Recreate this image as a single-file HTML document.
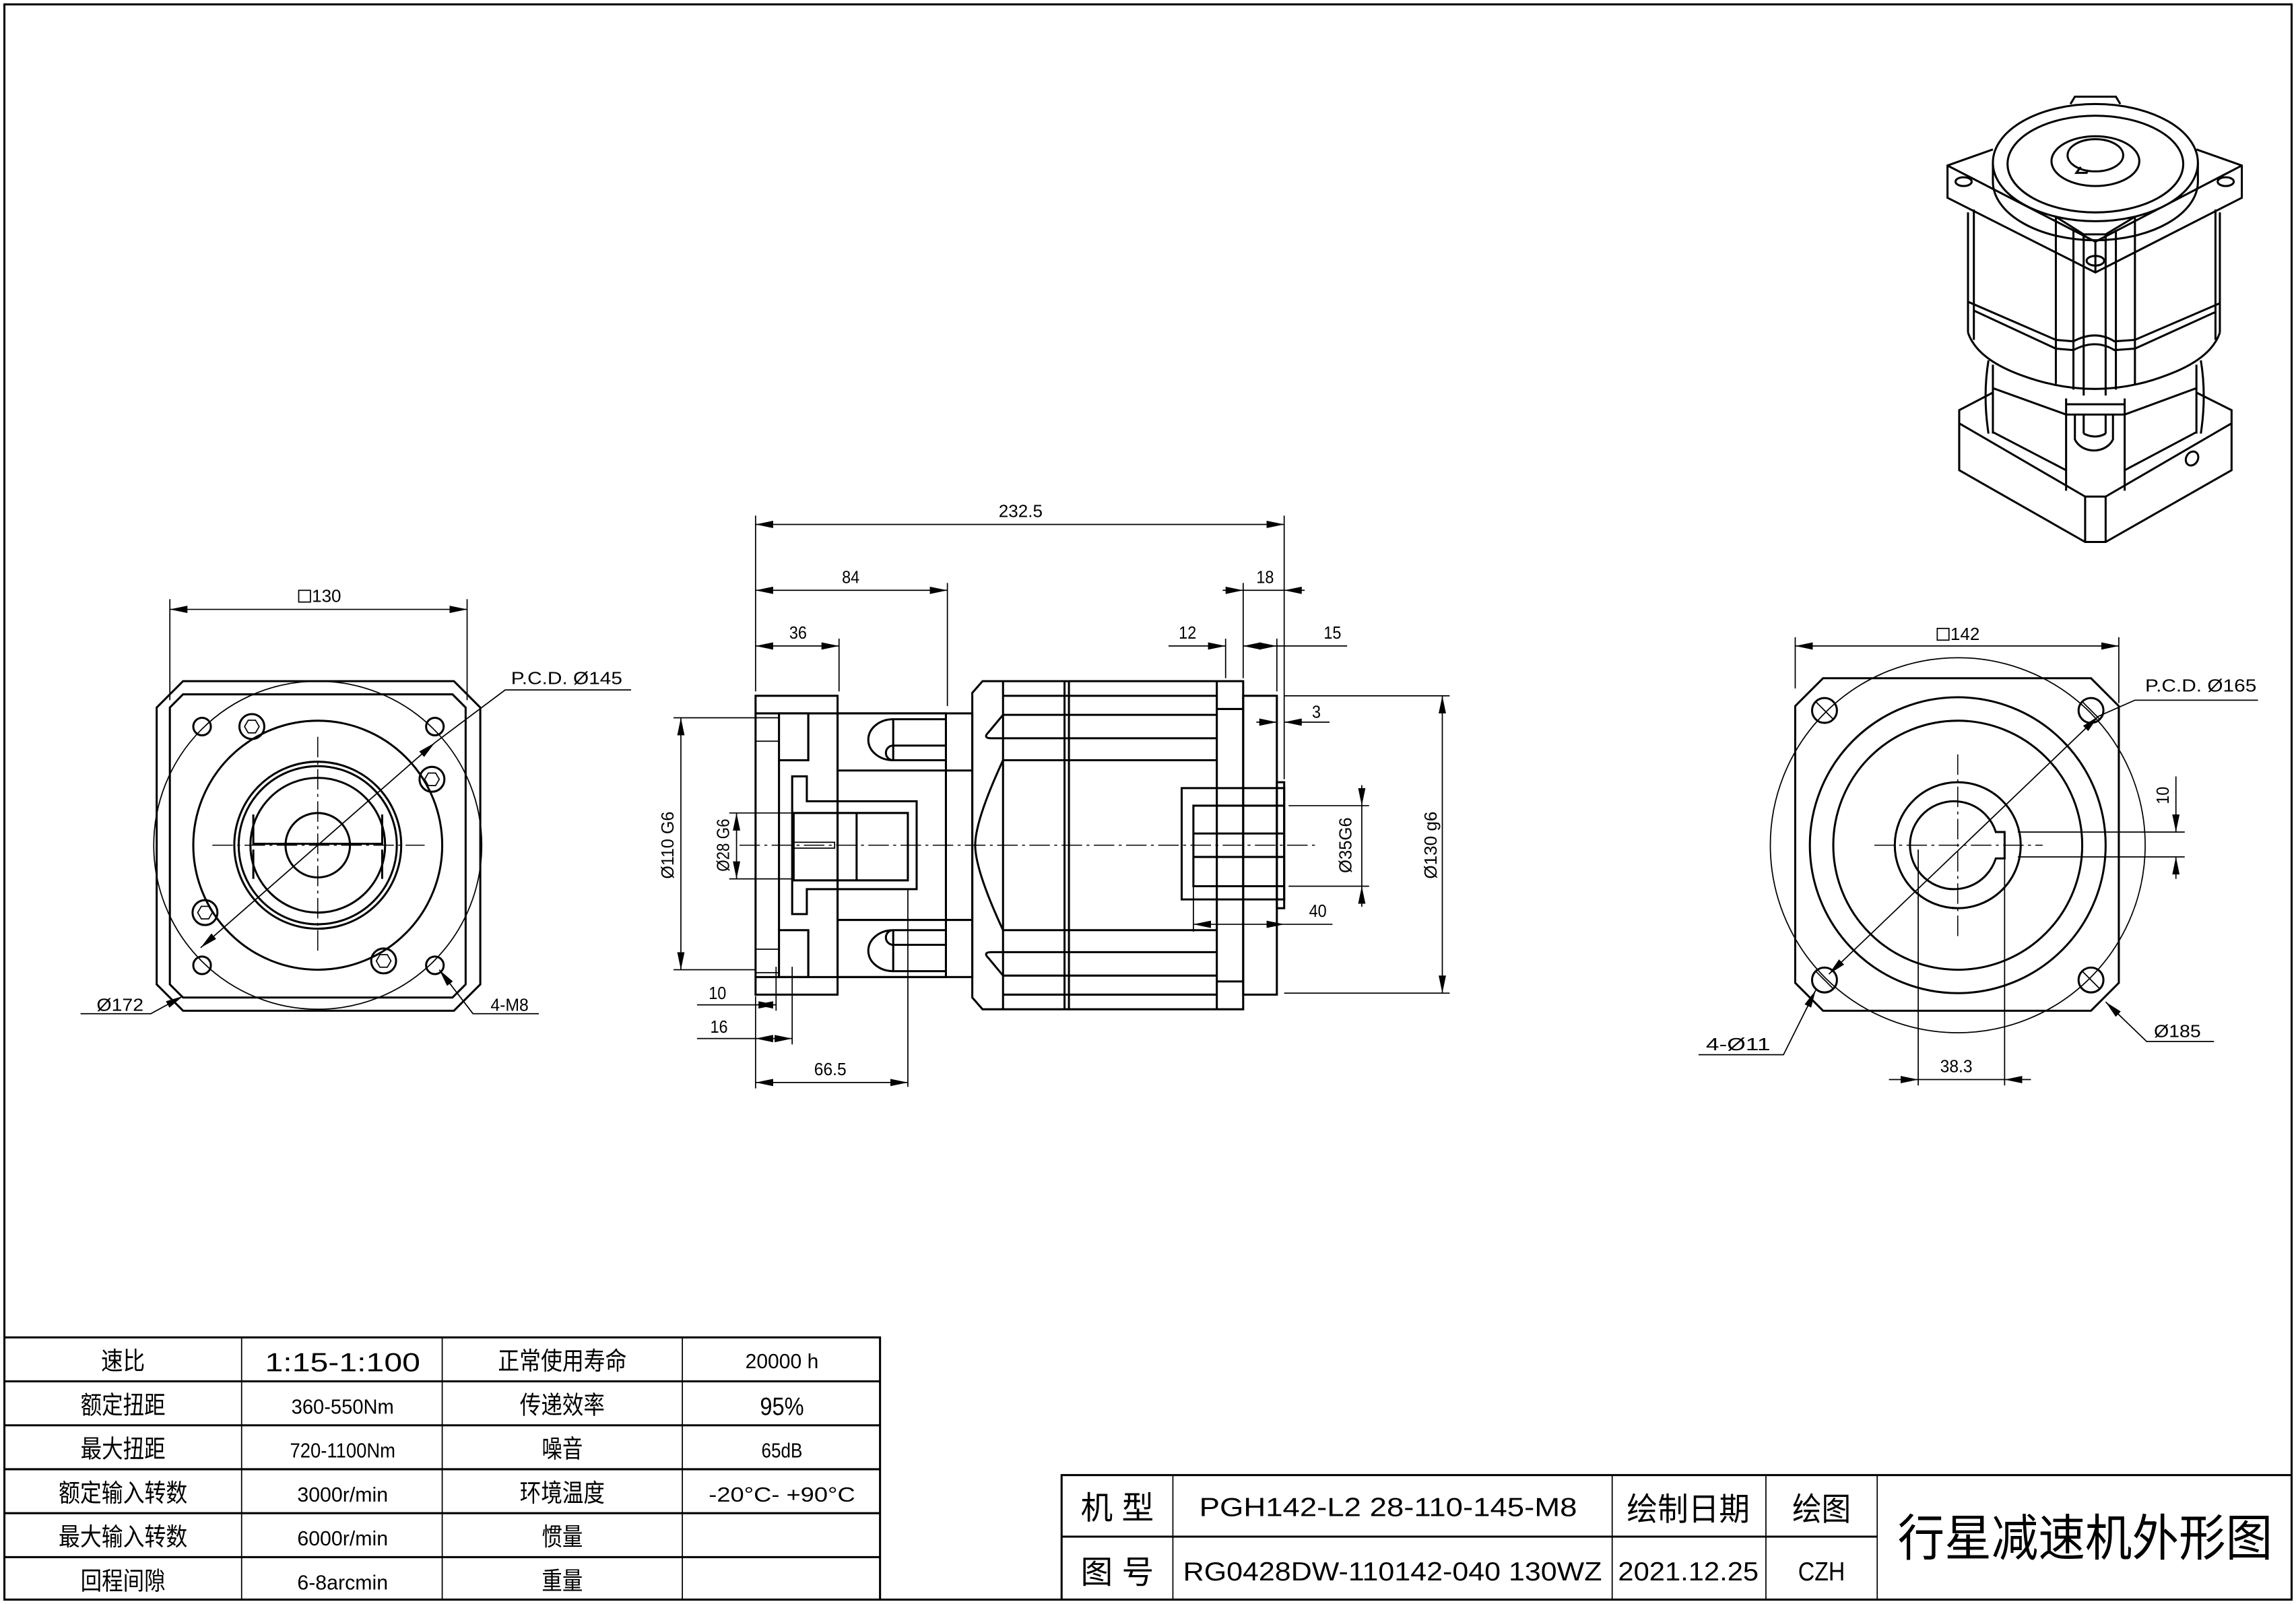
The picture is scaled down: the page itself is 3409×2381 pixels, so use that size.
<!DOCTYPE html>
<html><head><meta charset="utf-8"><style>html,body{margin:0;padding:0;background:#fff}svg{display:block}</style></head>
<body>
<svg xmlns="http://www.w3.org/2000/svg" width="3409" height="2381" viewBox="0 0 1568 1095" preserveAspectRatio="none">
<defs>
<marker id="a" viewBox="0 0 12 6" refX="12" refY="3" markerWidth="12" markerHeight="6" markerUnits="userSpaceOnUse" orient="auto-start-reverse"><path d="M0,0.5 L12,3 L0,5.5z" fill="#000"/></marker>
<pattern id="h" width="6" height="6" patternUnits="userSpaceOnUse" patternTransform="rotate(45)"><line x1="3" y1="-1" x2="3" y2="7" stroke="#000" stroke-width="0.9"/></pattern>
</defs>
<style>
.k{fill:none;stroke:#000;stroke-width:1.4}
.t{fill:none;stroke:#000;stroke-width:0.8}
.c{fill:none;stroke:#000;stroke-width:0.7;stroke-dasharray:14 3 2 3}
.d{fill:none;stroke:#000;stroke-width:0.8}
text{font-family:"Liberation Sans","Noto Sans CJK SC",sans-serif;fill:#000}
.n{font-size:12px}
.z{font-family:"Liberation Serif","Noto Serif CJK SC",serif}
</style>
<rect x="3" y="3" width="1562" height="1089" class="k"/>

<!-- ================= LEFT VIEW ================= -->
<g>
<path class="k" d="M125,465 L310,465 L328,483 L328,672 L310,690 L125,690 L107,672 L107,483 Z"/>
<path class="k" d="M125,474 L309,474 L318,483 L318,672 L309,681 L125,681 L116,672 L116,483 Z"/>
<circle cx="217" cy="577" r="112" class="t"/>
<circle cx="217" cy="577" r="85" class="k"/>
<circle cx="217" cy="577" r="57" class="k"/>
<circle cx="217" cy="577" r="54" class="k"/>
<circle cx="217" cy="577" r="46" class="k"/>
<circle cx="217" cy="577" r="22" class="k"/>
<path class="k" d="M173,556 L173,576 L261,576 L261,556 M173,580 L173,600 M261,580 L261,600"/>
<line x1="145" y1="577" x2="290" y2="577" class="c"/>
<line x1="217" y1="503" x2="217" y2="650" class="c"/>
<g class="k">
<circle cx="138" cy="496" r="6"/><circle cx="297" cy="496" r="6"/><circle cx="138" cy="659" r="6"/><circle cx="297" cy="659" r="6"/>
<circle cx="172" cy="496" r="8.5"/><circle cx="295" cy="532" r="8.5"/><circle cx="140" cy="623" r="8.5"/><circle cx="262" cy="656" r="8.5"/>
</g>
<g class="t">
<polygon points="177,496 174.5,500.3 169.5,500.3 167,496 169.5,491.7 174.5,491.7"/>
<polygon points="300,532 297.5,536.3 292.5,536.3 290,532 292.5,527.7 297.5,527.7"/>
<polygon points="145,623 142.5,627.3 137.5,627.3 135,623 137.5,618.7 142.5,618.7"/>
<polygon points="267,656 264.5,660.3 259.5,660.3 257,656 259.5,651.7 264.5,651.7"/>
</g>
<line x1="116" y1="409" x2="116" y2="478" class="t"/><line x1="319" y1="409" x2="319" y2="478" class="t"/>
<line x1="116" y1="416" x2="319" y2="416" class="d" marker-start="url(#a)" marker-end="url(#a)"/>
<rect x="204" y="403" width="8" height="8" class="t"/><text x="213" y="411" class="n" textLength="20" lengthAdjust="spacingAndGlyphs">130</text>
<line x1="137" y1="647" x2="297" y2="507" class="d" marker-start="url(#a)" marker-end="url(#a)"/>
<polyline points="297,507 345,471 431,471" class="d"/>
<text x="349" y="467" class="n" textLength="76" lengthAdjust="spacingAndGlyphs">P.C.D. Ø145</text>
<polyline points="125,680 103,692 55,692" class="d" marker-start="url(#a)"/>
<text x="66" y="690" class="n" textLength="32" lengthAdjust="spacingAndGlyphs">Ø172</text>
<polyline points="300,662 323,692 368,692" class="d" marker-start="url(#a)"/>
<text x="335" y="690" class="n" textLength="26" lengthAdjust="spacingAndGlyphs">4-M8</text>
</g>

<!-- ================= SIDE VIEW ================= -->
<g>
<rect x="516" y="475" width="56" height="204" class="k"/>
<line x1="516" y1="487" x2="646" y2="487" class="k"/><line x1="516" y1="667" x2="646" y2="667" class="k"/>
<line x1="552" y1="487" x2="552" y2="519" class="k"/><line x1="552" y1="635" x2="552" y2="667" class="k"/>
<rect x="532" y="487" width="20" height="32" fill="url(#h)" class="k"/>
<rect x="532" y="635" width="20" height="32" fill="url(#h)" class="k"/>
<rect x="516" y="490" width="16" height="16" class="t"/><rect x="516" y="648" width="16" height="16" class="t"/>
<line x1="532" y1="519" x2="532" y2="635" class="k"/>
<path d="M541,530 L551,530 L551,547 L626,547 L626,607 L551,607 L551,624 L541,624 Z M542,555 L542,601 L620,601 L620,555 Z" fill="url(#h)" fill-rule="evenodd" class="k"/>
<line x1="585" y1="555" x2="585" y2="601" class="k"/>
<rect x="542" y="575" width="28" height="4" class="t"/>
<rect x="572" y="487" width="74" height="180" class="k"/>
<line x1="572" y1="526" x2="664" y2="526" class="k"/><line x1="572" y1="628" x2="664" y2="628" class="k"/>
<path class="k" d="M646,491 L610,491 A17,14 0 0 0 610,519 L646,519 M646,509 L610,509 A5,5 0 0 0 610,519"/>
<path class="k" d="M646,663 L610,663 A17,14 0 0 1 610,635 L646,635 M646,645 L610,645 A5,5 0 0 1 610,635"/>
<line x1="610" y1="491" x2="610" y2="519" class="k"/><line x1="610" y1="635" x2="610" y2="663" class="k"/>
<rect x="646" y="487" width="18" height="180" class="k"/>
<line x1="620" y1="607" x2="620" y2="742" class="t"/>
<path class="k" d="M671,465 L849,465 L849,689 L671,689 L664,681 L664,473 Z"/>
<line x1="685" y1="465" x2="685" y2="689" class="k"/>
<line x1="727" y1="465" x2="727" y2="689" class="k"/><line x1="730" y1="465" x2="730" y2="689" class="k"/>
<line x1="831" y1="465" x2="831" y2="689" class="k"/>
<line x1="831" y1="484" x2="849" y2="484" class="k"/><line x1="831" y1="670" x2="849" y2="670" class="k"/>
<g class="k">
<line x1="685" y1="475" x2="831" y2="475"/><line x1="685" y1="488" x2="831" y2="488"/><line x1="685" y1="504" x2="831" y2="504"/><line x1="685" y1="519" x2="831" y2="519"/>
<line x1="685" y1="679" x2="831" y2="679"/><line x1="685" y1="666" x2="831" y2="666"/><line x1="685" y1="650" x2="831" y2="650"/><line x1="685" y1="635" x2="831" y2="635"/>
<path d="M685,488 L675,500 Q671,504 677,504 L685,504"/>
<path d="M685,666 L675,654 Q671,650 677,650 L685,650"/>
<path d="M685,519 Q666,560 666,577 Q666,594 685,635"/>
</g>
<rect x="849" y="475" width="23" height="204" class="k"/>
<rect x="872" y="534" width="5" height="86" class="k"/>
<path d="M807,538 L877,538 L877,614 L807,614 Z M815,550 L815,605 L877,605 L877,550 Z" fill="url(#h)" fill-rule="evenodd" class="k"/>
<line x1="815" y1="569" x2="877" y2="569" class="k"/><line x1="815" y1="585" x2="877" y2="585" class="k"/>
<line x1="505" y1="577" x2="900" y2="577" class="c"/>
<g class="t">
<line x1="516" y1="352" x2="516" y2="472"/><line x1="877" y1="352" x2="877" y2="532"/>
<line x1="647" y1="398" x2="647" y2="482"/><line x1="573" y1="436" x2="573" y2="472"/>
<line x1="849" y1="398" x2="849" y2="463"/><line x1="837" y1="436" x2="837" y2="463"/><line x1="872" y1="436" x2="872" y2="472"/>
<line x1="815" y1="605" x2="815" y2="636"/>
<line x1="880" y1="550" x2="935" y2="550"/><line x1="880" y1="605" x2="935" y2="605"/>
<line x1="877" y1="475" x2="990" y2="475"/><line x1="877" y1="678" x2="990" y2="678"/>
<line x1="460" y1="490" x2="516" y2="490"/><line x1="460" y1="662" x2="516" y2="662"/>
<line x1="498" y1="555" x2="542" y2="555"/><line x1="498" y1="600" x2="542" y2="600"/>
<line x1="530" y1="660" x2="530" y2="690"/><line x1="541" y1="660" x2="541" y2="713"/>
<line x1="516" y1="680" x2="516" y2="743"/>
</g>
<line x1="516" y1="358" x2="877" y2="358" class="d" marker-start="url(#a)" marker-end="url(#a)"/>
<line x1="516" y1="403" x2="647" y2="403" class="d" marker-start="url(#a)" marker-end="url(#a)"/>
<line x1="516" y1="441" x2="573" y2="441" class="d" marker-start="url(#a)" marker-end="url(#a)"/>
<line x1="835" y1="403" x2="849" y2="403" class="d" marker-end="url(#a)"/>
<line x1="849" y1="403" x2="877" y2="403" class="d"/>
<line x1="891" y1="403" x2="877" y2="403" class="d" marker-end="url(#a)"/>
<line x1="798" y1="441" x2="837" y2="441" class="d" marker-end="url(#a)"/>
<line x1="863" y1="441" x2="849" y2="441" class="d" marker-end="url(#a)"/>
<line x1="858" y1="441" x2="872" y2="441" class="d" marker-end="url(#a)"/>
<line x1="920" y1="441" x2="872" y2="441" class="d"/>
<line x1="858" y1="493" x2="872" y2="493" class="d" marker-end="url(#a)"/>
<line x1="908" y1="493" x2="877" y2="493" class="d" marker-end="url(#a)"/>
<line x1="930" y1="536" x2="930" y2="550" class="d" marker-end="url(#a)"/>
<line x1="930" y1="550" x2="930" y2="605" class="d"/>
<line x1="930" y1="619" x2="930" y2="605" class="d" marker-end="url(#a)"/>
<line x1="815" y1="631" x2="877" y2="631" class="d" marker-start="url(#a)" marker-end="url(#a)"/>
<line x1="877" y1="631" x2="910" y2="631" class="d"/>
<line x1="985" y1="475" x2="985" y2="678" class="d" marker-start="url(#a)" marker-end="url(#a)"/>
<line x1="465" y1="490" x2="465" y2="662" class="d" marker-start="url(#a)" marker-end="url(#a)"/>
<line x1="503" y1="555" x2="503" y2="600" class="d" marker-start="url(#a)" marker-end="url(#a)"/>
<line x1="516" y1="686" x2="530" y2="686" class="d" marker-start="url(#a)" marker-end="url(#a)"/>
<line x1="476" y1="686" x2="516" y2="686" class="d"/>
<line x1="476" y1="709" x2="516" y2="709" class="d"/>
<line x1="516" y1="709" x2="541" y2="709" class="d" marker-start="url(#a)" marker-end="url(#a)"/>
<line x1="516" y1="739" x2="620" y2="739" class="d" marker-start="url(#a)" marker-end="url(#a)"/>
<text x="682" y="353" class="n" textLength="30" lengthAdjust="spacingAndGlyphs">232.5</text>
<text x="575" y="398" class="n" textLength="12" lengthAdjust="spacingAndGlyphs">84</text>
<text x="539" y="436" class="n" textLength="12" lengthAdjust="spacingAndGlyphs">36</text>
<text x="858" y="398" class="n" textLength="12" lengthAdjust="spacingAndGlyphs">18</text>
<text x="805" y="436" class="n" textLength="12" lengthAdjust="spacingAndGlyphs">12</text>
<text x="904" y="436" class="n" textLength="12" lengthAdjust="spacingAndGlyphs">15</text>
<text x="896" y="490" class="n" textLength="6" lengthAdjust="spacingAndGlyphs">3</text>
<text x="894" y="626" class="n" textLength="12" lengthAdjust="spacingAndGlyphs">40</text>
<text x="484" y="682" class="n" textLength="12" lengthAdjust="spacingAndGlyphs">10</text>
<text x="485" y="705" class="n" textLength="12" lengthAdjust="spacingAndGlyphs">16</text>
<text x="556" y="734" class="n" textLength="22" lengthAdjust="spacingAndGlyphs">66.5</text>
<text transform="translate(923,577) rotate(-90)" text-anchor="middle" class="n" textLength="38" lengthAdjust="spacingAndGlyphs">Ø35G6</text>
<text transform="translate(981,577) rotate(-90)" text-anchor="middle" class="n" textLength="46" lengthAdjust="spacingAndGlyphs">Ø130 g6</text>
<text transform="translate(460,577) rotate(-90)" text-anchor="middle" class="n" textLength="46" lengthAdjust="spacingAndGlyphs">Ø110 G6</text>
<text transform="translate(498,577) rotate(-90)" text-anchor="middle" class="n" textLength="36" lengthAdjust="spacingAndGlyphs">Ø28 G6</text>
</g>

<!-- ================= RIGHT VIEW ================= -->
<g>
<path class="k" d="M1245,463 L1428,463 L1447,482 L1447,671 L1428,690 L1245,690 L1226,671 L1226,482 Z"/>
<circle cx="1337" cy="577" r="128" class="t"/>
<circle cx="1337" cy="577" r="101" class="k"/>
<circle cx="1337" cy="577" r="85" class="k"/>
<circle cx="1337" cy="577" r="43" class="k"/>
<path class="k" d="M1363,568 A30,30 0 1 0 1363,586 L1369,586 L1369,568 Z"/>
<line x1="1280" y1="577" x2="1395" y2="577" class="c"/>
<line x1="1337" y1="515" x2="1337" y2="642" class="c"/>
<g class="k"><circle cx="1246" cy="485" r="8.5"/><circle cx="1428" cy="485" r="8.5"/><circle cx="1246" cy="669" r="8.5"/><circle cx="1428" cy="669" r="8.5"/></g>
<g class="t"><line x1="1240" y1="479" x2="1252" y2="491"/><line x1="1422" y1="479" x2="1434" y2="491"/><line x1="1240" y1="663" x2="1252" y2="675"/><line x1="1422" y1="663" x2="1434" y2="675"/></g>
<line x1="1226" y1="435" x2="1226" y2="470" class="t"/><line x1="1447" y1="435" x2="1447" y2="480" class="t"/>
<line x1="1226" y1="441" x2="1447" y2="441" class="d" marker-start="url(#a)" marker-end="url(#a)"/>
<rect x="1323" y="429" width="8" height="8" class="t"/><text x="1332" y="437" class="n" textLength="20" lengthAdjust="spacingAndGlyphs">142</text>
<line x1="1249" y1="665" x2="1433" y2="489" class="d" marker-start="url(#a)" marker-end="url(#a)"/>
<polyline points="1433,489 1458,478 1542,478" class="d"/>
<text x="1465" y="472" class="n" textLength="76" lengthAdjust="spacingAndGlyphs">P.C.D. Ø165</text>
<polyline points="1438,684 1466,711 1512,711" class="d" marker-start="url(#a)"/>
<text x="1471" y="708" class="n" textLength="32" lengthAdjust="spacingAndGlyphs">Ø185</text>
<polyline points="1240,676 1218,720 1160,720" class="d" marker-start="url(#a)"/>
<text x="1165" y="717" class="n" textLength="44" lengthAdjust="spacingAndGlyphs">4-Ø11</text>
<line x1="1310" y1="580" x2="1310" y2="741" class="t"/><line x1="1369" y1="586" x2="1369" y2="741" class="t"/>
<line x1="1290" y1="737" x2="1310" y2="737" class="d" marker-end="url(#a)"/>
<line x1="1310" y1="737" x2="1369" y2="737" class="d"/>
<line x1="1387" y1="737" x2="1369" y2="737" class="d" marker-end="url(#a)"/>
<text x="1325" y="732" class="n" textLength="22" lengthAdjust="spacingAndGlyphs">38.3</text>
<line x1="1378" y1="568" x2="1492" y2="568" class="t"/><line x1="1378" y1="585" x2="1492" y2="585" class="t"/>
<line x1="1486" y1="530" x2="1486" y2="568" class="d" marker-end="url(#a)"/>
<line x1="1486" y1="600" x2="1486" y2="585" class="d" marker-end="url(#a)"/>
<text transform="translate(1481,543) rotate(-90)" text-anchor="middle" class="n" textLength="12" lengthAdjust="spacingAndGlyphs">10</text>
</g>

<!-- ================= 3D VIEW ================= -->
<g class="k">
<path d="M1414,71 L1417,66 L1445,66 L1448,71"/>
<path d="M1361,102 L1330,113 L1330,135 L1431,186 L1531,135 L1531,113 L1500,102"/>
<path d="M1330,113 L1431,165 L1531,113"/>
<line x1="1431" y1="165" x2="1431" y2="186"/>
<path d="M1361,111 L1361,124 A70,40 0 0 0 1501,124 L1501,111"/>
<ellipse cx="1431" cy="111" rx="70" ry="40" fill="#fff"/>
<ellipse cx="1431" cy="112" rx="60" ry="33"/>
<ellipse cx="1431" cy="110" rx="30" ry="17"/>
<ellipse cx="1431" cy="106" rx="19" ry="11"/>
<path d="M1421,114 L1418,118 L1425,118 L1426,116"/>
<ellipse cx="1341" cy="124" rx="5.5" ry="3"/><ellipse cx="1520" cy="124" rx="5.5" ry="3"/><ellipse cx="1431" cy="178" rx="6" ry="3.3"/>
<path d="M1344,145 L1344,227 M1348,143 L1348,232 M1516,145 L1516,227 M1513,143 L1513,232"/>
<path d="M1344,206 L1404,232 L1416,233 Q1431,225 1444,233 L1458,232 L1516,207"/>
<path d="M1348,212 L1404,238 L1416,239 Q1431,231 1444,239 L1458,238 L1513,213"/>
<path d="M1344,227 Q1350,245 1380,256 Q1431,275 1480,256 Q1510,245 1516,227"/>
<path d="M1404,148 L1404,262 M1416,157 L1416,266 M1423,160 L1423,270 M1438,160 L1438,270 M1445,157 L1445,266 M1458,148 L1458,262"/>
<path d="M1404,148 L1423,160 L1438,160 L1458,148"/>
<line x1="1423" y1="165" x2="1423" y2="160"/><line x1="1438" y1="165" x2="1438" y2="160"/>
<path d="M1361,249 L1361,296 M1500,249 L1500,296 M1358,246 Q1354,270 1358,296 M1503,246 Q1507,270 1503,296"/>
<path d="M1361,268 L1338,280 L1338,321 L1424,370 L1438,370 L1524,321 L1524,280 L1500,268"/>
<path d="M1338,289 L1424,339 L1438,339 L1524,289"/>
<line x1="1424" y1="339" x2="1424" y2="370"/><line x1="1438" y1="339" x2="1438" y2="370"/>
<path d="M1361,295 L1411,321 L1411,335 M1500,295 L1451,321 L1451,335"/>
<path d="M1361,265 L1411,283 L1451,283 L1500,265"/>
<path d="M1411,283 L1411,321 M1451,283 L1451,321 M1411,272 L1411,283 M1451,272 L1451,283 M1411,276 L1451,276"/>
<path d="M1417,283 L1417,300 A14,12 0 0 0 1443,300 L1443,283 M1423,283 L1423,296 M1438,283 L1438,296"/>
<path d="M1423,296 Q1431,300 1438,296"/>
<ellipse cx="1497" cy="313" rx="4" ry="5" transform="rotate(30 1497 313)"/>
</g>

<!-- ================= SPEC TABLE ================= -->
<g>
<rect x="3" y="913" width="598" height="179" class="k"/>
<g class="k"><line x1="3" y1="943" x2="601" y2="943"/><line x1="3" y1="973" x2="601" y2="973"/><line x1="3" y1="1003" x2="601" y2="1003"/><line x1="3" y1="1033" x2="601" y2="1033"/><line x1="3" y1="1063" x2="601" y2="1063"/></g>
<g class="t"><line x1="165" y1="913" x2="165" y2="1092"/><line x1="302" y1="913" x2="302" y2="1092"/><line x1="466" y1="913" x2="466" y2="1092"/></g>
<g font-size="17" text-anchor="middle" class="z">
<text x="84" y="935" textLength="30" lengthAdjust="spacingAndGlyphs">速比</text>
<text x="84" y="965" textLength="58" lengthAdjust="spacingAndGlyphs">额定扭距</text>
<text x="84" y="995" textLength="58" lengthAdjust="spacingAndGlyphs">最大扭距</text>
<text x="84" y="1025" textLength="88" lengthAdjust="spacingAndGlyphs">额定输入转数</text>
<text x="84" y="1055" textLength="88" lengthAdjust="spacingAndGlyphs">最大输入转数</text>
<text x="84" y="1085" textLength="58" lengthAdjust="spacingAndGlyphs">回程间隙</text>
<text x="384" y="935" textLength="88" lengthAdjust="spacingAndGlyphs">正常使用寿命</text>
<text x="384" y="965" textLength="58" lengthAdjust="spacingAndGlyphs">传递效率</text>
<text x="384" y="995" textLength="28" lengthAdjust="spacingAndGlyphs">噪音</text>
<text x="384" y="1025" textLength="58" lengthAdjust="spacingAndGlyphs">环境温度</text>
<text x="384" y="1055" textLength="28" lengthAdjust="spacingAndGlyphs">惯量</text>
<text x="384" y="1085" textLength="28" lengthAdjust="spacingAndGlyphs">重量</text>
<text x="234" y="936" font-size="18" textLength="106" lengthAdjust="spacingAndGlyphs">1:15-1:100</text>
</g>
<g font-size="14" text-anchor="middle">
<text x="234" y="965" textLength="70" lengthAdjust="spacingAndGlyphs">360-550Nm</text>
<text x="234" y="995" textLength="72" lengthAdjust="spacingAndGlyphs">720-1100Nm</text>
<text x="234" y="1025" textLength="62" lengthAdjust="spacingAndGlyphs">3000r/min</text>
<text x="234" y="1055" textLength="62" lengthAdjust="spacingAndGlyphs">6000r/min</text>
<text x="234" y="1085" textLength="62" lengthAdjust="spacingAndGlyphs">6-8arcmin</text>
<text x="534" y="934" textLength="50" lengthAdjust="spacingAndGlyphs">20000 h</text>
<text x="534" y="966" font-size="17" textLength="30" lengthAdjust="spacingAndGlyphs">95%</text>
<text x="534" y="995" textLength="28" lengthAdjust="spacingAndGlyphs">65dB</text>
<text x="534" y="1025" textLength="100" lengthAdjust="spacingAndGlyphs">-20°C- +90°C</text>
</g>
</g>

<!-- ================= TITLE BLOCK ================= -->
<g>
<rect x="725" y="1007" width="840" height="85" class="k"/>
<line x1="725" y1="1049" x2="1282" y2="1049" class="k"/>
<g class="t"><line x1="801" y1="1007" x2="801" y2="1092"/><line x1="1101" y1="1007" x2="1101" y2="1092"/><line x1="1206" y1="1007" x2="1206" y2="1092"/><line x1="1282" y1="1007" x2="1282" y2="1092"/></g>
<g text-anchor="middle" class="z" font-size="22">
<text x="763" y="1037" textLength="50" lengthAdjust="spacingAndGlyphs">机 型</text>
<text x="763" y="1081" textLength="50" lengthAdjust="spacingAndGlyphs">图 号</text>
<text x="1153" y="1038" textLength="84" lengthAdjust="spacingAndGlyphs">绘制日期</text>
<text x="1244" y="1038" textLength="40" lengthAdjust="spacingAndGlyphs">绘图</text>
<text x="1424" y="1062" font-size="34" textLength="256" lengthAdjust="spacingAndGlyphs">行星减速机外形图</text>
</g>
<g text-anchor="middle" font-size="18">
<text x="948" y="1035" textLength="258" lengthAdjust="spacingAndGlyphs">PGH142-L2 28-110-145-M8</text>
<text x="951" y="1079" textLength="286" lengthAdjust="spacingAndGlyphs">RG0428DW-110142-040 130WZ</text>
<text x="1153" y="1079" textLength="96" lengthAdjust="spacingAndGlyphs">2021.12.25</text>
<text x="1244" y="1079" textLength="32" lengthAdjust="spacingAndGlyphs">CZH</text>
</g>
</g>
</svg>
</body></html>
